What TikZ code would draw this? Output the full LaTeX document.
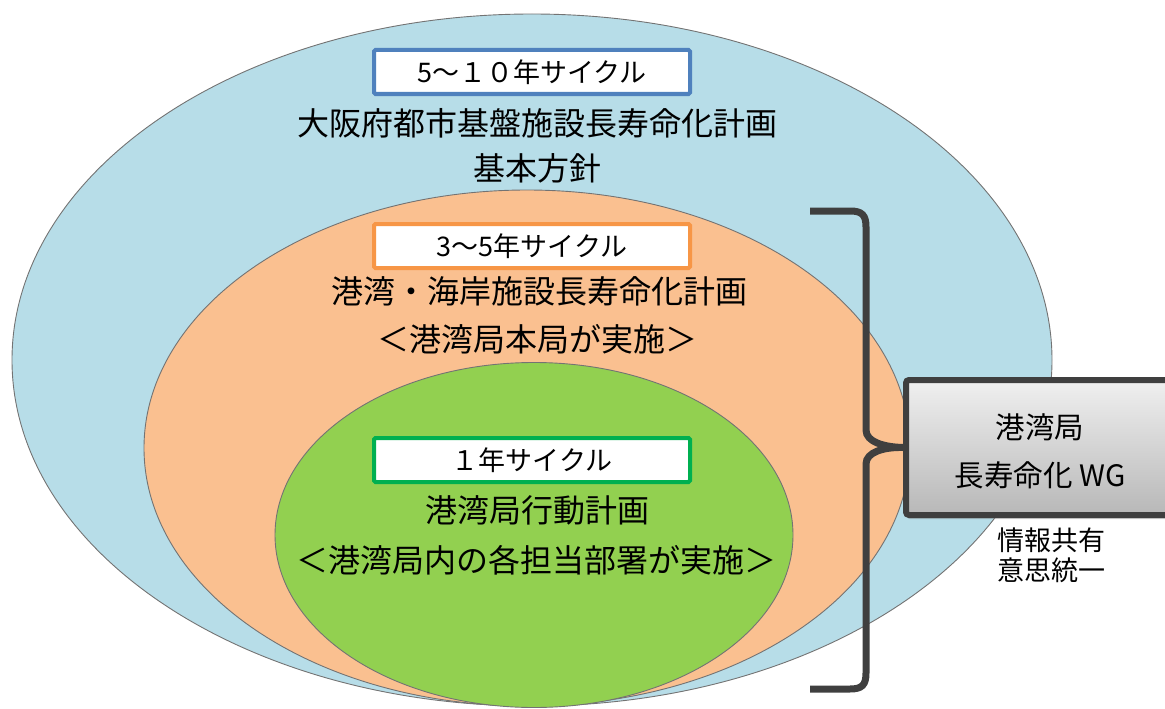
\documentclass[tikz,border=0pt]{standalone}
\usepackage{fontspec}
\setmainfont{Noto Sans CJK JP}
\usetikzlibrary{shapes.geometric,shadows}
\definecolor{ringblue}{HTML}{B7DDE8}
\definecolor{ringorange}{HTML}{FAC090}
\definecolor{ringgreen}{HTML}{92D050}
\definecolor{boxblue}{HTML}{4F81BD}
\definecolor{boxorange}{HTML}{F79646}
\definecolor{boxgreen}{HTML}{00B050}
\definecolor{darkline}{HTML}{3F3F3F}
\begin{document}
\begin{tikzpicture}[x=1pt,y=-1pt,
  ring/.style={ellipse, draw=black!55, line width=0.9pt, inner sep=0pt, outer sep=0pt},
  cyclebox/.style={draw, fill=white, line width=4pt, rounded corners=1.5pt,
    minimum width=316pt, minimum height=44pt, inner sep=0pt,
    font=\fontsize{27}{30}\selectfont},
  title/.style={inner sep=0pt, font=\fontsize{32}{36}\selectfont},
  wgbox/.style={draw=darkline, line width=6pt, rounded corners=3pt,
    top color=black!6, bottom color=black!28,
    minimum width=300pt, minimum height=135pt, inner sep=0pt,
    drop shadow={opacity=0.35, shadow xshift=1pt, shadow yshift=-4pt}},
  wgtext/.style={inner sep=0pt, font=\fontsize{29.5}{30}\selectfont},
  note/.style={inner sep=0pt, align=center, font=\fontsize{27}{30}\selectfont},
  bracket/.style={draw=darkline, line width=7pt}
]
\useasboundingbox (0,0) rectangle (1165,709);
\clip (0,0) rectangle (1165,709);
% rings
\node[ring, fill=ringblue, minimum width=1040pt, minimum height=692pt] (outer) at (532,360) {};
\node[ring, fill=ringorange, minimum width=766pt, minimum height=516pt] (mid) at (527,448) {};
\node[ring, fill=ringgreen, minimum width=518pt, minimum height=345pt] (inner) at (534,535) {};
% outer ring texts
\node[cyclebox, draw=boxblue] (c10) at (532,72) {5～１０年サイクル};
\node[title] (t1a) at (537,123) {大阪府都市基盤施設長寿命化計画};
\node[title] (t1b) at (537,168) {基本方針};
% middle ring texts
\node[cyclebox, draw=boxorange] (c5) at (532,246) {3～5年サイクル};
\node[title] (t2a) at (539,291) {港湾・海岸施設長寿命化計画};
\node[title] (t2b) at (537,339) {＜港湾局本局が実施＞};
% inner ring texts
\node[cyclebox, draw=boxgreen] (c1) at (532,460) {１年サイクル};
\node[title] (t3a) at (537,510) {港湾局行動計画};
\node[title] (t3b) at (536,560) {＜港湾局内の各担当部署が実施＞};
% bracket
\coordinate (btop) at (810,211);
\coordinate (bbot) at (810,689);
\node[wgbox] (wg) at (1056,447.5) {};
\draw[bracket] (btop) -- (850,211) .. controls (862,211) and (866,215) .. (866,227)
  -- (866,430) .. controls (866,442) and (884,447) .. (wg.west)
  .. controls (884,447) and (866,452) .. (866,464)
  -- (866,673) .. controls (866,685) and (862,689) .. (850,689) -- (bbot);
% WG texts
\node[wgtext] (wg1) at (1040,427) {港湾局};
\node[wgtext] (wg2) at (1040,475) {長寿命化 WG};
\node[note] (info) at (1051,555) {情報共有\\意思統一};
\end{tikzpicture}
\end{document}
